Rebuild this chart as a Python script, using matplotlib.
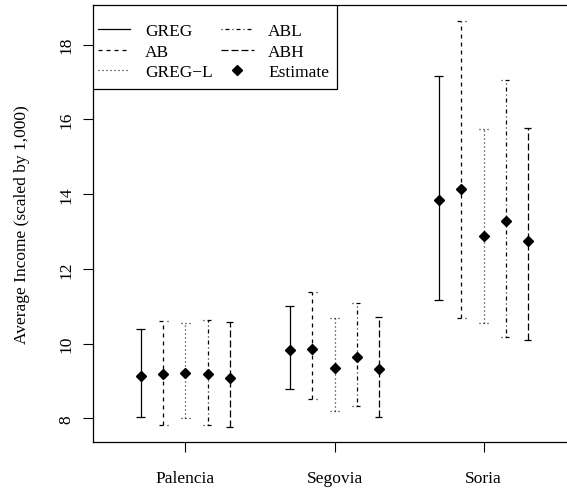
import numpy as np
import matplotlib
matplotlib.use("Agg")
import matplotlib.pyplot as plt
from matplotlib.lines import Line2D
from matplotlib.patches import Rectangle

plt.rcParams['font.family'] = ['Liberation Serif', 'DejaVu Serif']
plt.rcParams['lines.scale_dashes'] = False

# Data
groups = ["Palencia", "Segovia", "Soria"]
methods = ["GREG", "AB", "GREG\u2212L", "ABL", "ABH"]

est_greg = [9.14, 9.83, 13.84]
est_ab = [9.19, 9.86, 14.14]
est_gregl = [9.20, 9.35, 12.88]
est_abl = [9.19, 9.65, 13.29]
est_abh = [9.08, 9.31, 12.74]

low_greg = [8.04, 8.78, 11.16]
low_ab = [7.83, 8.52, 10.68]
low_gregl = [8.02, 8.19, 10.55]
low_abl = [7.83, 8.34, 10.17]
low_abh = [7.76, 8.03, 10.10]

up_greg = [10.39, 11.01, 17.15]
up_ab = [10.61, 11.38, 18.62]
up_gregl = [10.54, 10.69, 15.74]
up_abl = [10.63, 11.09, 17.04]
up_abh = [10.58, 10.72, 15.77]

estimates = [est_greg, est_ab, est_gregl, est_abl, est_abh]
lowers = [low_greg, low_ab, low_gregl, low_abl, low_abh]
uppers = [up_greg, up_ab, up_gregl, up_abl, up_abh]

# R-like line types (points, 1 px ~ 0.72 pt at 100 dpi)
u = 0.72
styles = [
    '-',
    (0, (4 * u, 4 * u)),
    (0, (1 * u, 3 * u)),
    (0, (1 * u, 3 * u, 4 * u, 3 * u)),
    (0, (7 * u, 3 * u)),
]
lw = 0.9
offsets = [-0.3, -0.15, 0.0, 0.15, 0.3]
cap = 0.03

fig = plt.figure(figsize=(5.67, 4.89), dpi=100)
ax = fig.add_axes([93 / 567, 46 / 489, 483 / 567, 437 / 489])

xpos = np.arange(1, len(groups) + 1)
for k in range(len(methods)):
    x = xpos + offsets[k]
    ax.vlines(x, lowers[k], uppers[k], colors='black', linestyles=[styles[k]], lw=lw)
    ax.hlines(lowers[k], x - cap, x + cap, colors='black', linestyles=[styles[k]], lw=lw)
    ax.hlines(uppers[k], x - cap, x + cap, colors='black', linestyles=[styles[k]], lw=lw)
for k in range(len(methods)):
    x = xpos + offsets[k]
    ax.plot(x, estimates[k], linestyle='none', marker='D', ms=5, color='black', zorder=5)

ax.set_xlim(0.38, 3.62)
ax.set_ylim(7.366, 19.06)
ax.set_xticks(xpos)
ax.set_xticklabels(groups)
ax.set_yticks([8, 10, 12, 14, 16, 18])
ax.set_yticklabels(['8', '10', '12', '14', '16', '18'], rotation=90, va='center')
ax.tick_params(axis='both', length=7.2, width=0.8, labelsize=12.5, pad=6)
ax.tick_params(axis='x', pad=13)
for sp in ax.spines.values():
    sp.set_linewidth(0.9)

fig.text(22 / 567, 0.54, "Average Income (scaled by 1,000)", rotation=90,
         ha='center', va='center', fontsize=12.5)

# legend box like R's legend("topleft")
handles = [Line2D([0], [0], color='black', lw=lw, linestyle=styles[k]) for k in range(len(methods))]
handles.append(Line2D([0], [0], color='black', linestyle='none', marker='D', ms=5))
labels = methods + ["Estimate"]
leg = ax.legend(handles, labels, ncol=2,
                loc='upper left', bbox_to_anchor=(0, 1 - 13 / 437), borderaxespad=0,
                frameon=False, fontsize=12.5,
                handlelength=1.85, handletextpad=0.85, columnspacing=0.5,
                borderpad=0.3, labelspacing=0.25)
ax.add_patch(Rectangle((0, 1 - 84 / 437), 244 / 483, 84 / 437, transform=ax.transAxes,
                       facecolor='white', edgecolor='black', lw=0.9, zorder=6))
leg.set_zorder(7)

fig.savefig("out.png", dpi=100)
